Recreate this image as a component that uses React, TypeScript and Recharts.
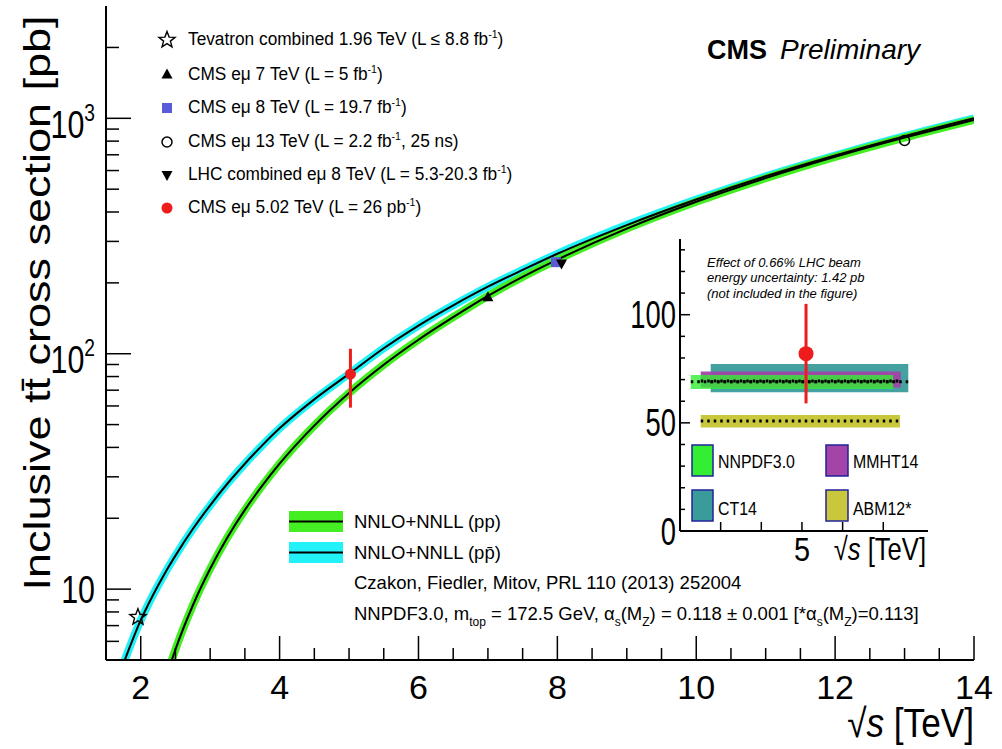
import React from 'react';
import { ComposedChart, Line, Scatter, XAxis, YAxis, ErrorBar, ReferenceArea, ReferenceLine } from 'recharts';

const FONT = '"Liberation Sans", Arial, Helvetica, sans-serif';

// ---------- theory curves (NNLO+NNLL) ----------
const sqrtS = [1.7, 1.8, 1.9, 2.0, 2.1, 2.2, 2.3, 2.4, 2.5, 2.75, 3.0, 3.25, 3.5, 3.75, 4.0, 4.5, 5.0, 5.5, 6.0, 6.5, 7.0, 7.5, 8.0, 9, 10, 11, 12, 13, 14];
const sigmaPP: (number | null)[] = [null, null, null, null, null, 2.85, 3.64, 4.53, 5.54, 8.52, 12.2, 16.6, 21.7, 27.5, 34.1, 49.5, 68.1, 89.8, 114.7, 143, 176, 212, 251, 340, 442, 557, 686, 828, 985];
const sigmaPPbar = [4.39, 5.27, 6.27, 7.38, 8.51, 9.73, 11.02, 12.41, 13.88, 18.0, 22.7, 28.1, 34.1, 40.8, 48.2, 64.0, 82.1, 105.5, 131.7, 160.5, 192.6, 227, 265.8, 352, 452, 567, 695, 840, 1000];

// ---------- measurements ----------
const measTevatron = [{ x: 1.96, y: 7.6 }];
const measCms7 = [{ x: 7.0, y: 173.6 }];
const measCms8 = [{ x: 7.98, y: 244.9 }];
const measCms13 = [{ x: 13.0, y: 805 }];
const measLhc8 = [{ x: 8.06, y: 241.5 }];
const measCms502 = [{ x: 5.02, y: 82, err: [23, 23] }];

// ---------- axis ticks ----------
const xTicks = [2, 2.5, 3, 3.5, 4, 4.5, 5, 5.5, 6, 6.5, 7, 7.5, 8, 8.5, 9, 9.5, 10, 10.5, 11, 11.5, 12, 12.5, 13, 13.5, 14];
const xTickLabels = [2, 4, 6, 8, 10, 12, 14];
const yTicks = [6, 7, 8, 9, 10, 20, 30, 40, 50, 60, 70, 80, 90, 100, 200, 300, 400, 500, 600, 700, 800, 900, 1000, 2000];
const yMajor = [10, 100, 1000];

// ---------- inset (5.02 TeV zoom) ----------
const pdfNames = ['CT14', 'MMHT14', 'NNPDF3.0', 'ABM12*'];
const pdfColors = ['#3a9c9a', '#a244a8', '#33ee33', '#c9c83c'];
const pdfOpacity = [0.95, 0.95, 0.8, 1];
const pdfLow = [64.1, 66.3, 65.6, 47.8];
const pdfHigh = [77.2, 73.7, 72.1, 53.6];
const pdfCentral = [69.0, 69.3, 69.0, 50.8];
const pdfXFrom = [4.551, 4.502, 4.453, 4.502];
const pdfXTo = [5.523, 5.486, 5.449, 5.482];
const insetYTicks = [0, 10, 20, 30, 40, 50, 60, 70, 80, 90, 100, 110, 120, 130];
const insetXTicks = [4.6, 4.8, 5.0, 5.2, 5.4];
const insetMeas = [{ x: 5.02, y: 82, err: [23, 23] }];

const curveRows = sqrtS.map((x, i) => ({ x, pp: sigmaPP[i], ppbar: sigmaPPbar[i] }));

function starPath(cx: number, cy: number, R: number, r: number) {
  let d = '';
  for (let i = 0; i < 10; i++) {
    const a = -Math.PI / 2 + (i * Math.PI) / 5;
    const rad = i % 2 ? r : R;
    d += (i ? 'L' : 'M') + (cx + rad * Math.cos(a)).toFixed(2) + ',' + (cy + rad * Math.sin(a)).toFixed(2);
  }
  return d + 'Z';
}

const StarShape = (p: any) => <path d={starPath(p.cx, p.cy, 8.5, 3.6)} fill="none" stroke="#000" strokeWidth={1.4} />;
const TriUp = (p: any) => <path d={`M${p.cx},${p.cy - 6}L${p.cx - 5.5},${p.cy + 4}L${p.cx + 5.5},${p.cy + 4}Z`} fill="#000" />;
const TriDown = (p: any) => <path d={`M${p.cx},${p.cy + 6}L${p.cx - 5.5},${p.cy - 4}L${p.cx + 5.5},${p.cy - 4}Z`} fill="#000" />;
const SquareShape = (p: any) => <rect x={p.cx - 5} y={p.cy - 5} width={10} height={10} fill="#5b5bd9" />;
const OpenCircle = (p: any) => <circle cx={p.cx} cy={p.cy} r={5} fill="none" stroke="#000" strokeWidth={1.5} />;
const RedDot = (p: any) => <circle cx={p.cx} cy={p.cy} r={5.5} fill="#ee1c1c" />;
const RedDotBig = (p: any) => <circle cx={p.cx} cy={p.cy} r={7.5} fill="#ee1c1c" />;

const MainXTick = (p: any) => {
  const v = p.payload.value;
  const major = xTickLabels.includes(v);
  return (
    <g>
      <line x1={p.x} x2={p.x} y1={p.y} y2={p.y - (major ? 24 : 12)} stroke="#000" strokeWidth={1.5} />
      {major && (
        <text x={p.x} y={p.y + 39} textAnchor="middle" fontSize={34} fontFamily={FONT} fill="#000">
          {v}
        </text>
      )}
    </g>
  );
};

const MainYTick = (p: any) => {
  const v = p.payload.value;
  const major = yMajor.includes(v);
  const exp = Math.round(Math.log10(v));
  return (
    <g>
      <line x1={p.x} x2={p.x + (major ? 25 : 13)} y1={p.y} y2={p.y} stroke="#000" strokeWidth={1.5} />
      {major && (
        <text
          transform={`translate(${p.x - 11},${p.y + (exp === 1 ? 14 : 19.5)}) scale(0.8,1)`}
          textAnchor="end"
          fontSize={38}
          fontFamily={FONT}
          fill="#000"
        >
          10
          {exp > 1 && (
            <tspan dy={-17} fontSize={24}>
              {exp}
            </tspan>
          )}
        </text>
      )}
    </g>
  );
};

const InsetXTick = (p: any) => {
  const v = p.payload.value;
  return (
    <g>
      <line x1={p.x} x2={p.x} y1={p.y} y2={p.y - 9} stroke="#000" strokeWidth={1.5} />
      {Math.abs(v - 5) < 1e-6 && (
        <text transform={`translate(${p.x},${p.y + 30}) scale(0.85,1)`} textAnchor="middle" fontSize={34} fontFamily={FONT} fill="#000">
          5
        </text>
      )}
    </g>
  );
};

const InsetYTick = (p: any) => {
  const v = p.payload.value;
  const major = v % 50 === 0;
  return (
    <g>
      {v !== 0 && <line x1={p.x} x2={p.x + (major ? 10 : 5)} y1={p.y} y2={p.y} stroke="#000" strokeWidth={1.5} />}
      {major && (
        <text transform={`translate(${p.x - 4},${p.y + 13.5}) scale(0.72,1)`} textAnchor="end" fontSize={38} fontFamily={FONT} fill="#000">
          {v}
        </text>
      )}
    </g>
  );
};

const frameLine = { stroke: '#000', strokeWidth: 2 };

export default function App() {
  const sup = (s: string) => (
    <>
      <tspan dy={-7} fontSize={11}>{s}</tspan>
    </>
  );
  const legendRows = [
    { y: 45, shape: 'star', label: (<>Tevatron combined 1.96 TeV (L ≤ 8.8 fb{sup('-1')}<tspan dy={7}>)</tspan></>) },
    { y: 79.5, shape: 'triup', label: (<>CMS eμ 7 TeV (L = 5 fb{sup('-1')}<tspan dy={7}>)</tspan></>) },
    { y: 113, shape: 'square', label: (<>CMS eμ 8 TeV (L = 19.7 fb{sup('-1')}<tspan dy={7}>)</tspan></>) },
    { y: 147, shape: 'circle', label: (<>CMS eμ 13 TeV (L = 2.2 fb{sup('-1')}<tspan dy={7}>, 25 ns)</tspan></>) },
    { y: 180, shape: 'tridown', label: (<>LHC combined eμ 8 TeV (L = 5.3-20.3 fb{sup('-1')}<tspan dy={7}>)</tspan></>) },
    { y: 213, shape: 'red', label: (<>CMS eμ 5.02 TeV (L = 26 pb{sup('-1')}<tspan dy={7}>)</tspan></>) },
  ];
  const mx = 167;
  const marker = (shape: string, cy: number) => {
    const p = { cx: mx, cy };
    if (shape === 'star') return <StarShape {...p} />;
    if (shape === 'triup') return <TriUp {...p} />;
    if (shape === 'square') return <SquareShape {...p} />;
    if (shape === 'circle') return <OpenCircle {...p} />;
    if (shape === 'tridown') return <TriDown {...p} />;
    return <RedDot {...p} />;
  };

  return (
    <div style={{ position: 'absolute', left: 0, top: 0, width: 1002, height: 749, background: '#fff', fontFamily: FONT, overflow: 'hidden' }}>
      <div style={{ position: 'absolute', left: 0, top: 0 }}>
        <ComposedChart width={1002} height={749} data={curveRows} margin={{ top: 6, right: 28, bottom: 0, left: 0 }}>
          <XAxis
            xAxisId={0}
            type="number"
            dataKey="x"
            domain={[1.5, 14]}
            allowDataOverflow
            ticks={xTicks}
            interval={0}
            tick={<MainXTick />}
            tickLine={false}
            axisLine={frameLine}
            tickSize={0}
            tickMargin={0}
            height={89}
          />
          <XAxis xAxisId="top" orientation="top" type="number" domain={[1.5, 14]} height={0} tick={false} tickLine={false} axisLine={frameLine} />
          <YAxis
            yAxisId={0}
            type="number"
            scale="log"
            domain={[5, 3000]}
            allowDataOverflow
            ticks={yTicks}
            interval={0}
            tick={<MainYTick />}
            tickLine={false}
            axisLine={frameLine}
            tickSize={0}
            tickMargin={0}
            width={106}
          />
          <YAxis yAxisId="right" orientation="right" type="number" domain={[0, 1]} width={0} tick={false} tickLine={false} axisLine={frameLine} />
          <Line dataKey="ppbar" type="monotone" stroke="#22f2f8" strokeWidth={8} dot={false} isAnimationActive={false} />
          <Line dataKey="pp" type="monotone" stroke="#44ee22" strokeWidth={8} dot={false} isAnimationActive={false} />
          <Line dataKey="ppbar" type="monotone" stroke="#000" strokeWidth={2} dot={false} isAnimationActive={false} />
          <Line dataKey="pp" type="monotone" stroke="#000" strokeWidth={2} dot={false} isAnimationActive={false} />
          <Scatter data={measTevatron} dataKey="y" shape={StarShape} isAnimationActive={false} />
          <Scatter data={measCms7} dataKey="y" shape={TriUp} isAnimationActive={false} />
          <Scatter data={measCms8} dataKey="y" shape={SquareShape} isAnimationActive={false} />
          <Scatter data={measLhc8} dataKey="y" shape={TriDown} isAnimationActive={false} />
          <Scatter data={measCms13} dataKey="y" shape={OpenCircle} isAnimationActive={false} />
          <Scatter data={measCms502} dataKey="y" shape={RedDot} isAnimationActive={false}>
            <ErrorBar dataKey="err" direction="y" width={0} stroke="#ee1c1c" strokeWidth={3} />
          </Scatter>
        </ComposedChart>
      </div>

      {/* inset */}
      <div style={{ position: 'absolute', left: 590, top: 230 }}>
        <ComposedChart width={340} height={345} margin={{ top: 9, right: 2, bottom: 0, left: 0 }}>
          <XAxis
            xAxisId={0}
            type="number"
            dataKey="x"
            domain={[4.4, 5.62]}
            allowDataOverflow
            ticks={insetXTicks}
            interval={0}
            tick={<InsetXTick />}
            tickLine={false}
            axisLine={frameLine}
            tickSize={0}
            tickMargin={0}
            height={44}
          />
          <XAxis xAxisId="top" orientation="top" type="number" domain={[4.4, 5.62]} height={0} tick={false} tickLine={false} axisLine={frameLine} />
          <YAxis
            yAxisId={0}
            type="number"
            domain={[0, 135]}
            allowDataOverflow
            ticks={insetYTicks}
            interval={0}
            tick={<InsetYTick />}
            tickLine={false}
            axisLine={frameLine}
            tickSize={0}
            tickMargin={0}
            width={90}
          />
          <YAxis yAxisId="right" orientation="right" type="number" domain={[0, 1]} width={0} tick={false} tickLine={false} axisLine={frameLine} />
          {pdfNames.map((n, i) => (
            <ReferenceArea
              key={n}
              x1={pdfXFrom[i]}
              x2={pdfXTo[i]}
              y1={pdfLow[i]}
              y2={pdfHigh[i]}
              fill={pdfColors[i]}
              fillOpacity={pdfOpacity[i]}
              stroke="none"
              ifOverflow="visible"
            />
          ))}
          {pdfNames.map((n, i) => (
            <ReferenceLine
              key={'c' + n}
              segment={[{ x: pdfXFrom[i], y: pdfCentral[i] }, { x: pdfXTo[i], y: pdfCentral[i] }]}
              stroke="#000"
              strokeWidth={3}
              strokeDasharray="2.5 4"
              ifOverflow="visible"
            />
          ))}
          <Scatter data={insetMeas} dataKey="y" shape={RedDotBig} isAnimationActive={false}>
            <ErrorBar dataKey="err" direction="y" width={0} stroke="#ee1c1c" strokeWidth={3} />
          </Scatter>
        </ComposedChart>
      </div>

      {/* text overlay */}
      <svg width={1002} height={749} style={{ position: 'absolute', left: 0, top: 0, pointerEvents: 'none' }} fontFamily={FONT}>
        {/* y-axis title */}
        <text transform="translate(50,303) rotate(-90) scale(1,0.8)" textAnchor="middle" fontSize={45} fill="#000">
          Inclusive tt̄ cross section [pb]
        </text>
        {/* x-axis title */}
        <text transform="translate(974,737) scale(0.88,1)" textAnchor="end" fontSize={40} fill="#000">
          √<tspan fontStyle="italic">s</tspan> [TeV]
        </text>

        {/* CMS Preliminary */}
        <text x={707} y={59} fontSize={27} fontWeight="bold" fill="#000">CMS</text>
        <text x={780} y={59} fontSize={28} fontStyle="italic" fill="#000">Preliminary</text>

        {/* measurement legend */}
        {legendRows.map((r, i) => (
          <g key={i}>
            {marker(r.shape, r.y - 5)}
            <text transform={`translate(188,${r.y}) scale(0.96,1)`} fontSize={18} fill="#000">
              {r.label}
            </text>
          </g>
        ))}

        {/* theory legend */}
        <rect x={289} y={511} width={54} height={21} fill="#44ee22" />
        <line x1={289} x2={343} y1={521.5} y2={521.5} stroke="#000" strokeWidth={2} />
        <text x={354} y={528} fontSize={18.5} fill="#000">NNLO+NNLL (pp)</text>
        <rect x={289} y={542} width={54} height={21} fill="#22f2f8" />
        <line x1={289} x2={343} y1={552.5} y2={552.5} stroke="#000" strokeWidth={2} />
        <text x={354} y={559} fontSize={18.5} fill="#000">NNLO+NNLL (pp̄)</text>
        <text x={354} y={589} fontSize={18.5} fill="#000">Czakon, Fiedler, Mitov, PRL 110 (2013) 252004</text>
        <text x={354} y={620} fontSize={18.5} fill="#000">
          NNPDF3.0, m<tspan dy={6} fontSize={12}>top</tspan>
          <tspan dy={-6}> = 172.5 GeV, α</tspan>
          <tspan dy={6} fontSize={12}>s</tspan>
          <tspan dy={-6}>(M</tspan>
          <tspan dy={6} fontSize={12}>Z</tspan>
          <tspan dy={-6}>) = 0.118 ± 0.001 [*α</tspan>
          <tspan dy={6} fontSize={12}>s</tspan>
          <tspan dy={-6}>(M</tspan>
          <tspan dy={6} fontSize={12}>Z</tspan>
          <tspan dy={-6}>)=0.113]</tspan>
        </text>

        {/* inset annotation */}
        <g fontStyle="italic" fontSize={13} fill="#000">
          <text x={707} y={267}>Effect of 0.66% LHC beam</text>
          <text x={707} y={282}>energy uncertainty: 1.42 pb</text>
          <text x={707} y={298}>(not included in the figure)</text>
        </g>
        {/* inset legend */}
        <rect x={692} y={445} width={21} height={31} fill="#33ee33" stroke="#22229a" strokeWidth={1.5} />
        <text transform="translate(718,468) scale(0.86,1)" fontSize={18.5} fill="#000">NNPDF3.0</text>
        <rect x={826} y={445} width={22} height={31} fill="#a244a8" stroke="#22229a" strokeWidth={1.5} />
        <text transform="translate(853,468) scale(0.86,1)" fontSize={18.5} fill="#000">MMHT14</text>
        <rect x={692} y={490} width={21} height={31} fill="#3a9c9a" stroke="#22229a" strokeWidth={1.5} />
        <text transform="translate(718,515) scale(0.86,1)" fontSize={18.5} fill="#000">CT14</text>
        <rect x={826} y={490} width={22} height={31} fill="#c9c83c" stroke="#22229a" strokeWidth={1.5} />
        <text transform="translate(853,515) scale(0.86,1)" fontSize={18.5} fill="#000">ABM12*</text>
        {/* inset x title */}
        <text transform="translate(926,560) scale(0.8,1)" textAnchor="end" fontSize={32} fill="#000">
          √<tspan fontStyle="italic">s</tspan> [TeV]
        </text>
      </svg>
    </div>
  );
}
